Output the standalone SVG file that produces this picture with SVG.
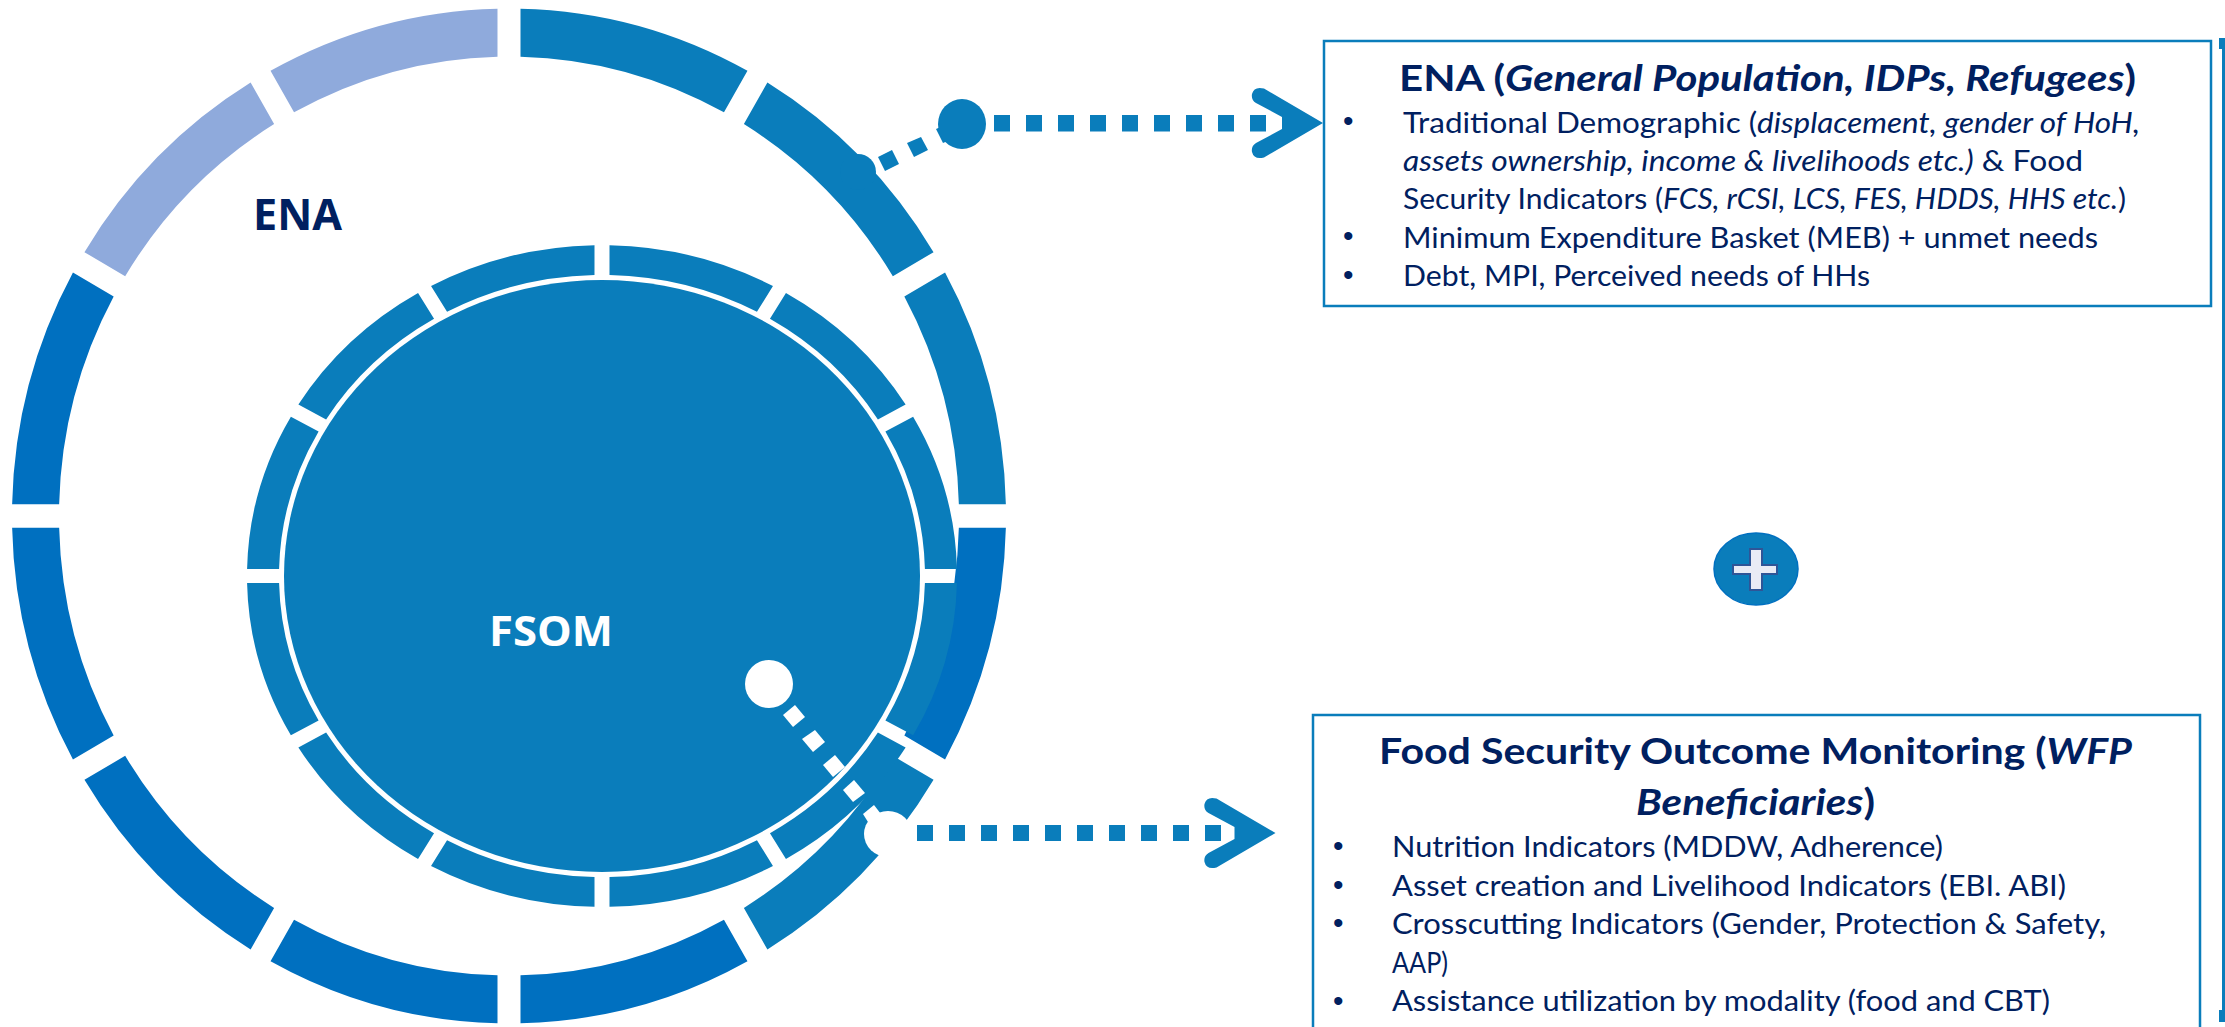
<svg xmlns="http://www.w3.org/2000/svg" xmlns:xlink="http://www.w3.org/1999/xlink" width="2225" height="1027" viewBox="0 0 2225 1027">
<style>
.teal{fill:#0A7DBB}.dark{fill:#0070C0}.light{fill:#8FAADC}.w{fill:#fff}
text{font-family:"Lato","Open Sans","Liberation Sans",sans-serif;fill:#002060}
.t{font-size:37px;font-weight:700}.b{font-size:29.500px}.i{font-style:italic}
.bu{font-family:"Liberation Sans",sans-serif;font-size:30px}
.lab{font-family:"Open Sans",sans-serif;font-weight:700}
.box{fill:#fff;stroke:#0A7DBB;stroke-width:2.500}
</style>
<defs>
<path id="o" d="M11.500 -496.870A497 497 0 0 1 238.470 -436.050L214.970 -395.330A450 450 0 0 0 11.500 -449.850Z"/>
<path id="n" d="M7.500 -354.920A355 355 0 0 1 170.970 -311.120L154.960 -283.400A323 323 0 0 0 7.500 -322.910Z"/>
<path id="chev1" d="M1323 123L1264 88.500Q1254 86 1252 94Q1251 100 1256 103L1282 117V129L1256 143Q1251 146 1252 152Q1254 160 1264 157.500Z"/>
</defs>
<rect width="2225" height="1027" fill="#fff"/>
<g id="ena-ring" transform="translate(509 516) scale(1 1.021)">
<use href="#o" class="teal"/>
<use href="#o" class="teal" transform="rotate(30)"/>
<use href="#o" class="teal" transform="rotate(60)"/>
<use href="#o" class="dark" transform="rotate(90)"/>
<use href="#o" class="teal" transform="rotate(120)"/>
<use href="#o" class="dark" transform="rotate(150)"/>
<use href="#o" class="dark" transform="rotate(180)"/>
<use href="#o" class="dark" transform="rotate(210)"/>
<use href="#o" class="dark" transform="rotate(240)"/>
<use href="#o" class="dark" transform="rotate(270)"/>
<use href="#o" class="light" transform="rotate(300)"/>
<use href="#o" class="light" transform="rotate(330)"/>
</g>
<g id="fsom-ring" class="teal" transform="translate(602 576) scale(1 .932)">
<use href="#n"/>
<use href="#n" transform="rotate(30)"/>
<use href="#n" transform="rotate(60)"/>
<use href="#n" transform="rotate(90)"/>
<use href="#n" transform="rotate(120)"/>
<use href="#n" transform="rotate(150)"/>
<use href="#n" transform="rotate(180)"/>
<use href="#n" transform="rotate(210)"/>
<use href="#n" transform="rotate(240)"/>
<use href="#n" transform="rotate(270)"/>
<use href="#n" transform="rotate(300)"/>
<use href="#n" transform="rotate(330)"/>
</g>
<g id="fsom-disc"><ellipse class="teal" cx="602" cy="576" rx="318" ry="296"/>
<text class="lab" x="489" y="646" font-size="42" style="fill:#fff" textLength="124" lengthAdjust="spacingAndGlyphs">FSOM</text></g>
<g id="ena-label"><text class="lab" x="253" y="230" font-size="43" textLength="89" lengthAdjust="spacingAndGlyphs">ENA</text></g>
<g id="connectors">
<g id="conn-ena" class="teal">
<circle cx="858" cy="172" r="18"/>
<polygon points="878,157 892,150 899,164 885,171"/>
<polygon points="907,143 921,137 928,150 914,157"/>
<polygon points="936,129 950,123 957,137 943,143"/>
<ellipse cx="962" cy="124" rx="24" ry="25"/>
<rect x="994" y="115" width="16" height="16.500"/><rect x="1026" y="115" width="16" height="16.500"/><rect x="1058" y="115" width="16" height="16.500"/><rect x="1090" y="115" width="16" height="16.500"/><rect x="1122" y="115" width="16" height="16.500"/><rect x="1154" y="115" width="16" height="16.500"/><rect x="1186" y="115" width="16" height="16.500"/><rect x="1218" y="115" width="16" height="16.500"/><rect x="1250" y="115" width="16" height="16.500"/>
<use href="#chev1"/>
</g>
<g id="conn-fsom">
<g class="w">
<circle cx="769" cy="684" r="24"/>
<polygon points="795,705 805,717 793,727 783,715"/>
<polygon points="815,730 825,742 813,752 802,739"/>
<polygon points="835,755 845,767 833,777 823,765"/>
<polygon points="854,780 865,793 853,802 843,790"/>
<polygon points="874,805 884,818 868,822 863,814"/>
<ellipse cx="888" cy="834" rx="24" ry="23"/>
</g>
<g class="teal">
<rect x="917" y="825" width="16" height="16"/><rect x="949" y="825" width="16" height="16"/><rect x="981" y="825" width="16" height="16"/><rect x="1013" y="825" width="16" height="16"/><rect x="1045" y="825" width="16" height="16"/><rect x="1077" y="825" width="16" height="16"/><rect x="1109" y="825" width="16" height="16"/><rect x="1141" y="825" width="16" height="16"/><rect x="1173" y="825" width="16" height="16"/><rect x="1205" y="825" width="16" height="16"/>
<use href="#chev1" transform="translate(-47.500 710)"/>
</g>
</g>
</g>
<g id="box-ena">
<rect class="box" x="1324" y="41" width="887" height="265"/>
<text class="t" x="1399" y="91" textLength="737" lengthAdjust="spacingAndGlyphs">ENA (<tspan class="i">General Population, IDPs, Refugees</tspan>)</text>
<text class="bu" x="1343" y="131">•</text>
<text class="b" x="1403" y="132.500" textLength="737" lengthAdjust="spacingAndGlyphs">Traditional Demographic (<tspan class="i">displacement, gender of HoH,</tspan></text>
<text class="b" x="1403" y="171" textLength="680" lengthAdjust="spacingAndGlyphs"><tspan class="i">assets ownership, income &amp; livelihoods etc.)</tspan> &amp; Food</text>
<text class="b" x="1403" y="209" textLength="723" lengthAdjust="spacingAndGlyphs">Security Indicators (<tspan class="i">FCS, rCSI, LCS, FES, HDDS, HHS etc.</tspan>)</text>
<text class="bu" x="1343" y="246">•</text>
<text class="b" x="1403" y="247.500" textLength="695" lengthAdjust="spacingAndGlyphs">Minimum Expenditure Basket (MEB) + unmet needs</text>
<text class="bu" x="1343" y="285">•</text>
<text class="b" x="1403" y="286" textLength="467" lengthAdjust="spacingAndGlyphs">Debt, MPI, Perceived needs of HHs</text>
</g>
<g id="plus">
<ellipse cx="1756" cy="569" rx="42" ry="36" fill="#0A7DBB" stroke="#0070C0" stroke-width="1.500"/>
<polygon points="1750,549 1762,549 1762,565 1777,565 1777,574 1762,574 1762,590 1750,590 1750,574 1733,574 1733,565 1750,565" fill="#E9EBF5" stroke="#2F5597" stroke-width="2"/>
</g>
<g id="box-fsom">
<rect class="box" x="1313" y="715" width="887" height="330"/>
<text class="t" x="1379" y="764" textLength="753" lengthAdjust="spacingAndGlyphs">Food Security Outcome Monitoring (<tspan class="i">WFP</tspan></text>
<text class="t" x="1636" y="815" textLength="239" lengthAdjust="spacingAndGlyphs"><tspan class="i">Beneficiaries</tspan>)</text>
<text class="bu" x="1333" y="856">•</text>
<text class="b" x="1392" y="857" textLength="551" lengthAdjust="spacingAndGlyphs">Nutrition Indicators (MDDW, Adherence)</text>
<text class="bu" x="1333" y="895">•</text>
<text class="b" x="1392" y="896" textLength="674" lengthAdjust="spacingAndGlyphs">Asset creation and Livelihood Indicators (EBI. ABI)</text>
<text class="bu" x="1333" y="933">•</text>
<text class="b" x="1392" y="934" textLength="714" lengthAdjust="spacingAndGlyphs">Crosscutting Indicators (Gender, Protection &amp; Safety,</text>
<text class="b" x="1392" y="973" textLength="56" lengthAdjust="spacingAndGlyphs">AAP)</text>
<text class="bu" x="1333" y="1011">•</text>
<text class="b" x="1392" y="1011" textLength="658" lengthAdjust="spacingAndGlyphs">Assistance utilization by modality (food and CBT)</text>
</g>
<g id="right-edge" class="teal">
<rect x="2222" y="38" width="3" height="984"/>
<rect x="2219" y="38" width="6" height="11"/>
<rect x="2219" y="1010" width="6" height="12"/>
</g>
</svg>
